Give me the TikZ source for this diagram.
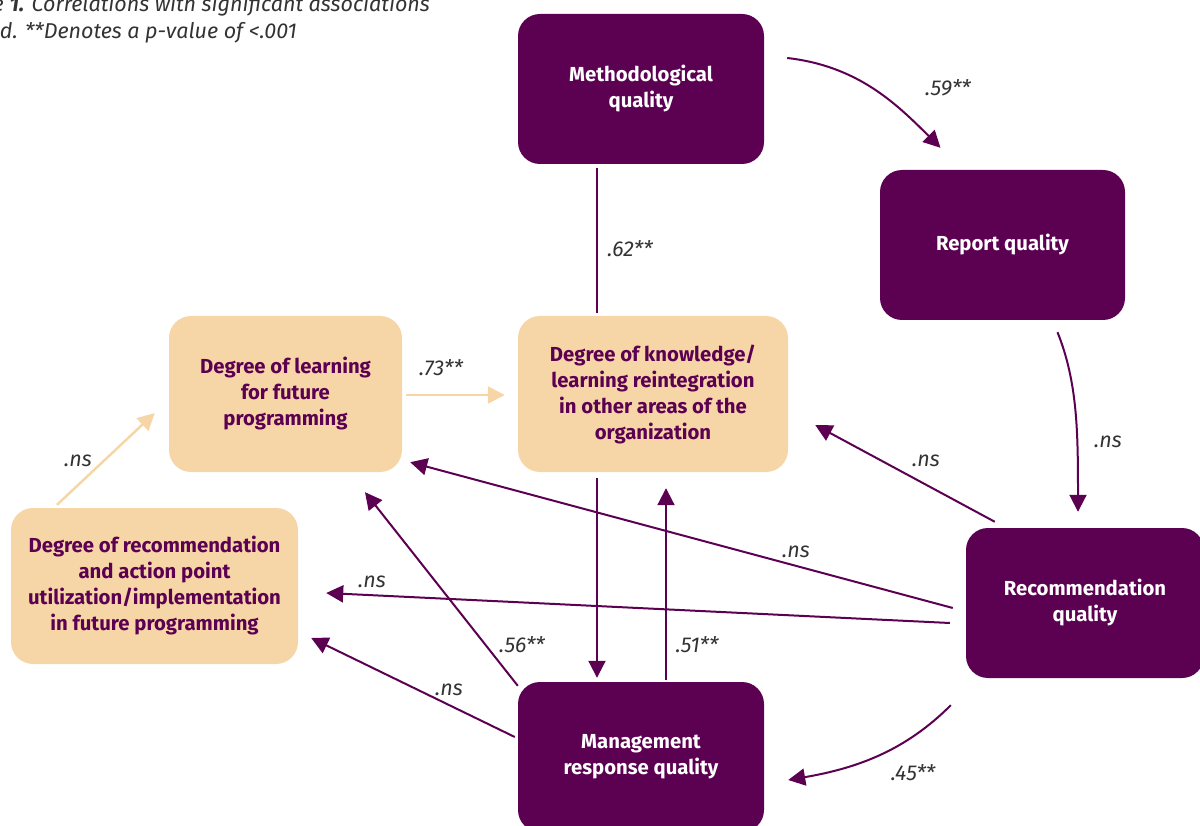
\documentclass[tikz,border=0pt]{standalone}
\usepackage{fontspec}
\setmainfont{Fira Sans}
\usetikzlibrary{arrows.meta,calc}
\definecolor{plum}{HTML}{5C0052}
\definecolor{peach}{HTML}{F6D6A6}
\definecolor{lbl}{HTML}{333333}
\tikzset{
  box/.style={rounded corners=22pt, align=center, inner sep=0pt,
    font=\fontsize{20.3}{26}\selectfont\bfseries},
  dbox/.style={box, fill=plum, text=white},
  lbox/.style={box, fill=peach, text=plum},
  conn/.style={draw=plum, line width=2pt},
  arr/.style={conn, -{Triangle[length=17pt,width=17pt]}},
  parr/.style={draw=peach, line width=2.5pt, -{Triangle[length=17pt,width=17pt]}},
  lab/.style={font=\fontsize{21.5}{24}\selectfont\itshape, text=lbl, inner sep=0pt},
}
\begin{document}
\begin{tikzpicture}[x=1pt,y=-1pt]
\useasboundingbox (0,0) rectangle (1200,826);
\clip (0,0) rectangle (1200,826);
% boxes
\node[dbox, minimum width=246pt, minimum height=150pt] (meth) at (641,89) {Methodological\\quality};
\node[dbox, minimum width=245pt, minimum height=150pt] (rep) at (1002.5,245) {Report quality};
\node[dbox, minimum width=238pt, minimum height=150pt] (recq) at (1085,603) {Recommendation\\quality};
\node[dbox, minimum width=246pt, minimum height=150pt] (mgmt) at (641,757) {Management\\response quality};
\node[lbox, minimum width=270pt, minimum height=156pt] (know) at (653,394) {Degree of knowledge/\\learning reintegration\\in other areas of the\\organization};
\node[lbox, minimum width=233pt, minimum height=156pt] (learn) at (285.5,394) {Degree of learning\\for future\\programming};
\node[lbox, minimum width=287pt, minimum height=156pt] (degrec) at (154.5,586) {Degree of recommendation\\and action point\\utilization/implementation\\in future programming};
% title
\node[lab, anchor=base east] (t1) at (430,12) {e \textbf{1.} Correlations with significant associations};
\node[lab, anchor=base east] (t2) at (297,39) {d. **Denotes a p-value of <.001};
% connectors
\coordinate (a1) at ($(meth.east)+(23,-31)$);
\coordinate (b1) at ($(rep.north)+(-62,-22)$);
\draw[arr] (a1) .. controls +(70,8) and +(-45,-45) .. (b1);
\node[lab] (l1) at (948,88) {.59**};

\draw[conn] ($(meth.south)+(-44,4)$) -- ($(know.north)+(-56,-3)$);
\node[lab] (l2) at (630,249) {.62**};

\draw[parr] ($(learn.east)+(4,1)$) -- ($(know.west)+(-13,1)$);
\node[lab] (l3) at (441,368) {.73**};

\coordinate (a4) at ($(rep.south)+(55,12)$);
\coordinate (b4) at ($(recq.north)+(-7,-16)$);
\draw[arr] (a4) .. controls +(20,50) and +(0,-80) .. (b4);
\node[lab] (l4) at (1108,442) {.ns};

\draw[arr] ($(recq.north west)+(29,-6)$) -- ($(know.east)+(27,31)$);
\node[lab] (l5) at (926,461) {.ns};

\draw[arr] ($(recq.west)+(-13,5)$) -- ($(learn.south east)+(8,-10)$);
\node[lab] (l6) at (796,552) {.ns};

\draw[arr] ($(recq.west)+(-16,20)$) -- ($(degrec.east)+(28,7)$);
\node[lab] (l7) at (372,582) {.ns};

\draw[arr] ($(know.south)+(-56,6)$) -- ($(mgmt.north)+(-44,-4)$);
\draw[arr] ($(mgmt.north)+(25,-2)$) -- ($(know.south)+(13,16)$);
\node[lab] (l9) at (697,645) {.51**};

\draw[arr] ($(mgmt.north west)+(0,4)$) -- ($(learn.south)+(79.5,20)$);
\node[lab] (l10) at (522,645) {.56**};

\draw[arr] ($(mgmt.west)+(-3,-20)$) -- ($(degrec.east)+(13,52)$);
\node[lab] (l11) at (449,690) {.ns};

\coordinate (a12) at ($(recq.south west)+(-15,27)$);
\coordinate (b12) at ($(mgmt.east)+(24,23)$);
\draw[arr] (a12) .. controls +(-45,45) and +(70,-12) .. (b12);
\node[lab] (l12) at (913,773) {.45**};

\draw[parr] ($(degrec.north)+(-97.5,-3)$) -- ($(learn.west)+(-14,19)$);
\node[lab] (l13) at (78,461) {.ns};
\end{tikzpicture}
\end{document}
